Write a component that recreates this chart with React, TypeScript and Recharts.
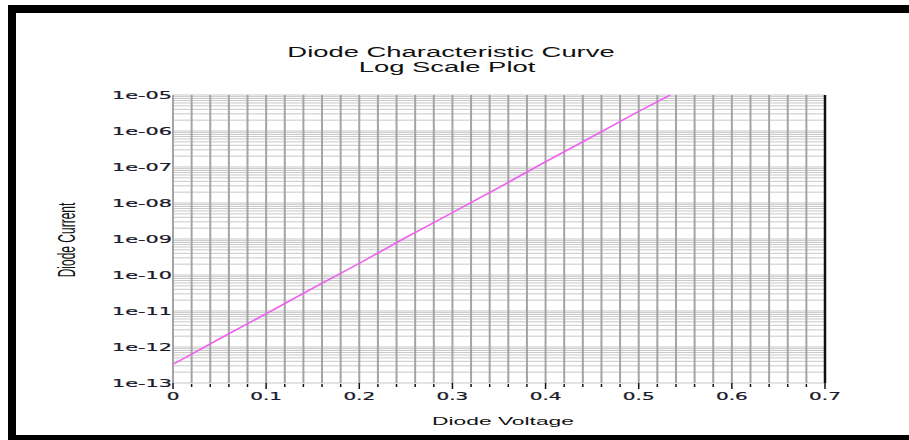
import React from "react";
import { LineChart, Line, XAxis, YAxis, CartesianGrid, ReferenceLine } from "recharts";

const voltage = [0, 0.05, 0.1, 0.15, 0.2, 0.25, 0.3, 0.35, 0.4, 0.45, 0.5, 0.534];
const current = [
  3.3e-13, 1.7e-12, 8.4e-12, 4.3e-11, 2.1e-10, 1.1e-9, 5.4e-9, 2.7e-8, 1.4e-7, 6.9e-7, 3.5e-6, 1.0e-5,
];

const xTicks = [
  0, 0.02, 0.04, 0.06, 0.08, 0.1, 0.12, 0.14, 0.16, 0.18, 0.2, 0.22, 0.24, 0.26, 0.28, 0.3, 0.32, 0.34,
  0.36, 0.38, 0.4, 0.42, 0.44, 0.46, 0.48, 0.5, 0.52, 0.54, 0.56, 0.58, 0.6, 0.62, 0.64, 0.66, 0.68, 0.7,
];
const yTicks = [1e-13, 1e-12, 1e-11, 1e-10, 1e-9, 1e-8, 1e-7, 1e-6, 1e-5];
const yTickLabels = ["1e-13", "1e-12", "1e-11", "1e-10", "1e-09", "1e-08", "1e-07", "1e-06", "1e-05"];

const data = voltage.map((v, i) => ({ v, i: current[i] }));

// minor log grid: 1..9 in each decade
const minorY: number[] = [];
for (let k = -13; k < -5; k++) {
  for (let m = 1; m <= 9; m++) minorY.push(m * Math.pow(10, k));
}
minorY.push(1e-5);

const SX = 2; // the source image is stretched horizontally
const TICK_FONT = "'DejaVu Sans', Verdana, sans-serif";
const LABEL_FONT = "'Liberation Sans', Arial, sans-serif";

const XTick = (props: any) => {
  const { x, y, payload } = props;
  const val = payload.value as number;
  const major = Math.abs(Math.round(val * 10) - val * 10) < 1e-6;
  return (
    <g>
      <line x1={x} x2={x} y1={y + (major ? 0 : 1)} y2={y + (major ? 6 : 4)} stroke="#111" strokeWidth={1.5} />
      {major && (
        <text
          transform={`translate(${x},400) scale(${SX},1)`}
          textAnchor="middle"
          fontSize={10}
          fontFamily={TICK_FONT}
          fill="#1a1a2a"
          stroke="#1a1a2a"
          strokeWidth={0.2}
        >
          {Math.round(val * 10) === 0 ? "0" : (Math.round(val * 10) / 10).toString()}
        </text>
      )}
    </g>
  );
};

const YTick = (props: any) => {
  const { x, y, payload } = props;
  const idx = yTicks.findIndex((t) => Math.abs(Math.log10(t) - Math.log10(payload.value)) < 1e-6);
  return (
    <text
      transform={`translate(${x},${y + 4}) scale(${SX},1)`}
      textAnchor="end"
      fontSize={10.4}
      fontFamily={TICK_FONT}
      fill="#1a1a2a"
      stroke="#1a1a2a"
      strokeWidth={0.2}
    >
      {idx >= 0 ? yTickLabels[idx] : ""}
    </text>
  );
};

export default function App() {
  return (
    <div
      style={{
        position: "absolute",
        left: 0,
        top: 0,
        width: 909,
        height: 440,
        overflow: "hidden",
        background: "#fff",
      }}
    >
      <div
        style={{
          position: "absolute",
          left: 8,
          top: 5,
          width: 1000,
          height: 422,
          border: "8px solid #000",
        }}
      />
      <div style={{ position: "absolute", left: 0, top: 0 }}>
        <LineChart width={909} height={440} data={data} margin={{ top: 95, right: 84, bottom: 0, left: 0 }}>
          <CartesianGrid
            vertical={false}
            horizontalValues={minorY}
            stroke="#c8c8c8"
            strokeWidth={1}
          />
          <CartesianGrid
            horizontal={false}
            verticalValues={xTicks}
            stroke="#a4a4a4"
            strokeWidth={2}
          />
          <XAxis
            dataKey="v"
            type="number"
            domain={[0, 0.7]}
            ticks={xTicks}
            interval={0}
            tickSize={0}
            tickMargin={0}
            axisLine={false}
            tickLine={false}
            height={57}
            tick={<XTick />}
          />
          <YAxis
            dataKey="i"
            scale="log"
            domain={[1e-13, 1e-5]}
            ticks={yTicks}
            interval={0}
            allowDataOverflow
            width={173}
            tickSize={0}
            tickMargin={1}
            axisLine={false}
            tickLine={false}
            tick={<YTick />}
          />
          <ReferenceLine x={0.7} stroke="#111" strokeWidth={2.5} />
          <Line
            type="linear"
            dataKey="i"
            stroke="#f060f0"
            strokeWidth={1.6}
            dot={false}
            isAnimationActive={false}
          />
        </LineChart>
      </div>
      <svg
        width={909}
        height={440}
        style={{ position: "absolute", left: 0, top: 0, pointerEvents: "none" }}
      >
        <text
          transform={`translate(451,57) scale(${SX},1)`}
          textAnchor="middle"
          fontSize={13.7}
          fontFamily={LABEL_FONT}
          fill="#111"
        >
          Diode Characteristic Curve
        </text>
        <text
          transform={`translate(447,72) scale(${SX},1)`}
          textAnchor="middle"
          fontSize={13.7}
          fontFamily={LABEL_FONT}
          fill="#111"
        >
          Log Scale Plot
        </text>
        <text
          transform={`translate(503,425) scale(${SX},1)`}
          textAnchor="middle"
          fontSize={11.4}
          fontFamily={LABEL_FONT}
          fill="#111"
        >
          Diode Voltage
        </text>
        <text
          transform={`translate(75,240) scale(${SX},1) rotate(-90)`}
          textAnchor="middle"
          fontSize={12}
          fontFamily={LABEL_FONT}
          fill="#111"
        >
          Diode Current
        </text>
      </svg>
    </div>
  );
}
